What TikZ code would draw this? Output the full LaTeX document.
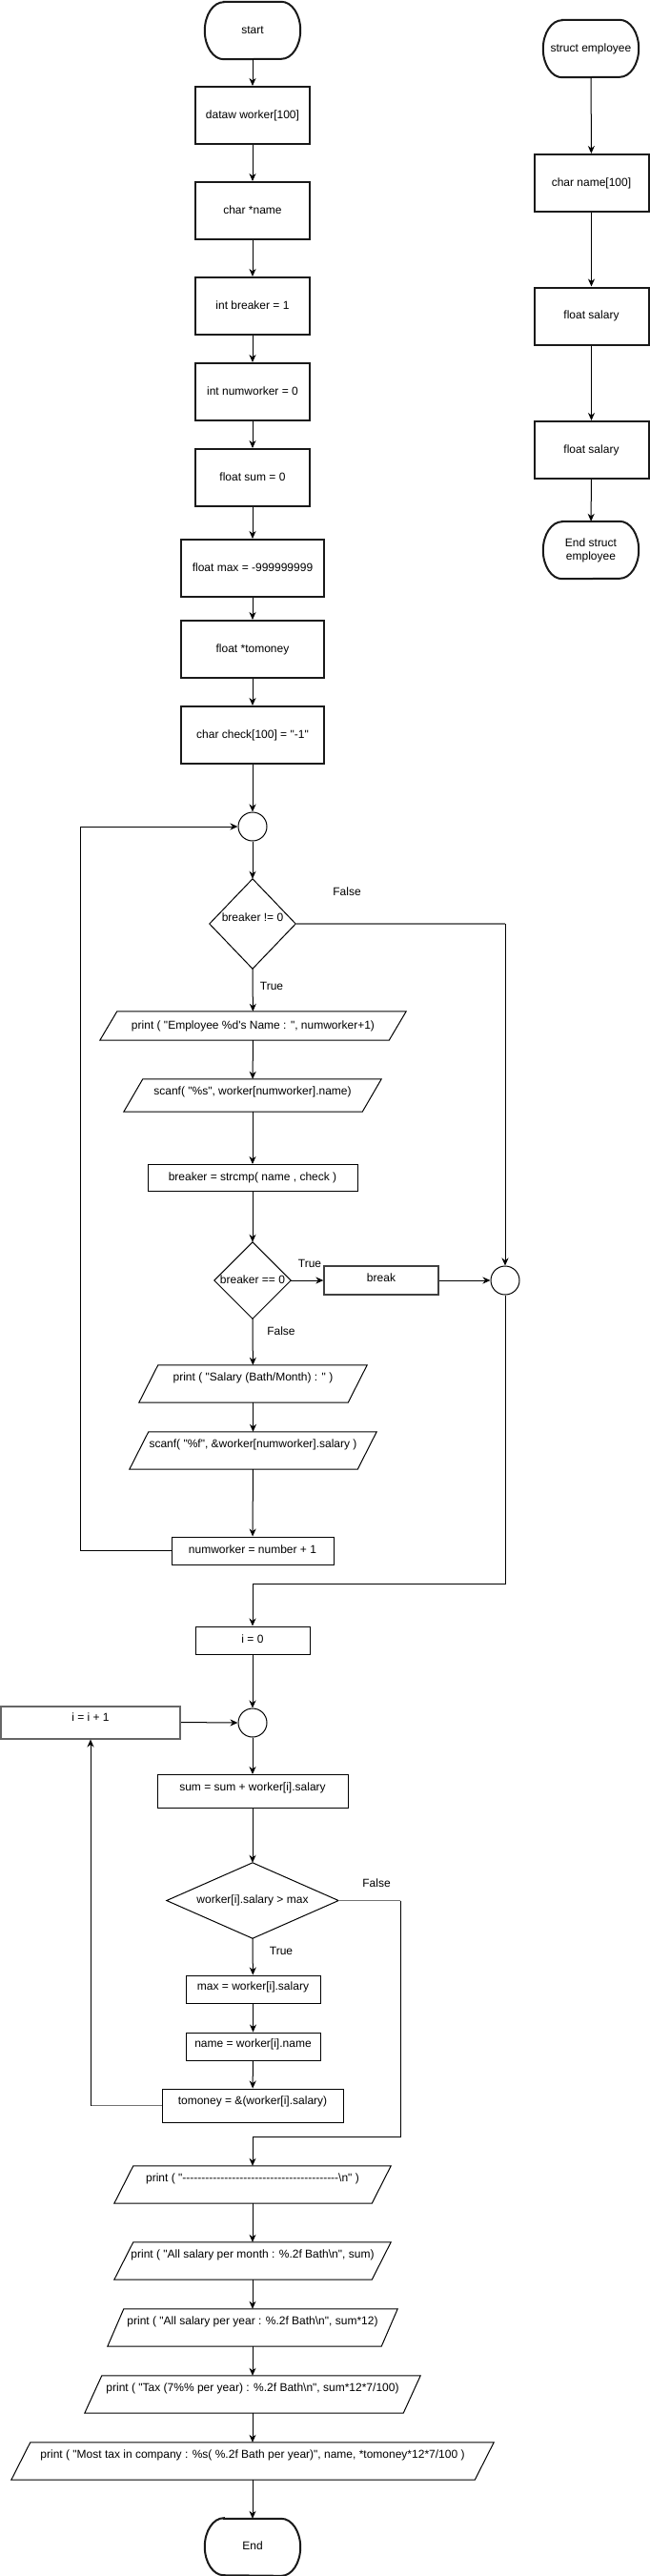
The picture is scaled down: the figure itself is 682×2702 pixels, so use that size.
\documentclass[tikz,border=0pt]{standalone}
\usepackage{fontspec}
\setmainfont{Liberation Sans}[Ligatures=TeXOff]
\usetikzlibrary{arrows.meta,calc}
\newcommand\drawpara[2]{\draw[pline] ([xshift=#2]#1.north west) -- (#1.north east) -- ([xshift=-#2]#1.south east) -- (#1.south west) -- cycle;}
\newcommand\drawterm[1]{\draw[tline] ([xshift=20pt]#1.north west) -- ([xshift=-20pt]#1.north east) arc[start angle=90,end angle=-90,x radius=20pt,y radius=30pt] -- ([xshift=20pt]#1.south west) arc[start angle=270,end angle=90,x radius=20pt,y radius=30pt] -- cycle;}
\newcommand\drawdiam[1]{\draw[pline] (#1.north) -- (#1.east) -- (#1.south) -- (#1.west) -- cycle;}
\tikzset{
  txt/.style={font=\fontsize{12}{14}\selectfont, inner sep=0pt, align=center},
  fx/.style={text height=9pt, text depth=3pt},
  rb/.style={txt, fx, draw=black!90, line width=2pt},
  nb/.style={txt, fx, draw, line width=1pt},
  hb/.style={txt, fx},
  cir/.style={circle, draw, line width=1pt, minimum size=30pt, inner sep=0pt},
  lbl/.style={txt, fx},
  arr/.style={-{Stealth[length=8pt,width=7pt,inset=2.5pt]}, line width=1pt},
  gl/.style={line width=1.6pt, draw=black!55},
  pline/.style={line width=1pt},
  tline/.style={line width=2pt, draw=black!90},
  up/.style={text depth=#1},
}
\begin{document}
\begin{tikzpicture}[x=1pt,y=-1pt]
\useasboundingbox (0,0) rectangle (682,2702);
% ---------- main column
\node[hb, minimum width=100pt, minimum height=60pt] (start) at (265,32) {start};
\drawterm{start}
\node[rb, minimum width=120pt, minimum height=60pt] (dataw) at (265,121) {dataw worker[100]};
\node[rb, minimum width=120pt, minimum height=60pt] (cname) at (265,221) {char *name};
\node[rb, minimum width=120pt, minimum height=60pt] (brk1) at (265,321) {int breaker = 1};
\node[rb, minimum width=120pt, minimum height=60pt] (numw0) at (265,411) {int numworker = 0};
\node[rb, minimum width=120pt, minimum height=60pt] (sum0) at (265,501) {float sum = 0};
\node[rb, minimum width=150pt, minimum height=60pt] (maxv) at (265,596) {float max = -999999999};
\node[rb, minimum width=150pt, minimum height=60pt] (tomon) at (265,681) {float *tomoney};
\node[rb, minimum width=150pt, minimum height=60pt] (check) at (265,771) {char check[100] = "-1"};
\node[cir] (c1) at (265,867) {};
\node[hb, up=15pt, minimum width=90pt, minimum height=94pt] (d1) at (265,969) {breaker != 0};
\drawdiam{d1}
\node[hb, minimum width=321pt, minimum height=30pt] (p1) at (265.5,1076) {print ( "Employee \%d's Name : ", numworker+1)};
\drawpara{p1}{18pt}
\node[hb, up=11pt, minimum width=270pt, minimum height=34pt] (s1) at (265,1149) {scanf( "\%s", worker[numworker].name)};
\drawpara{s1}{20pt}
\node[nb, minimum width=220pt, minimum height=28pt] (strcmp) at (265,1235.5) {breaker = strcmp( name , check )};
\node[hb, minimum width=80pt, minimum height=80pt] (d2) at (265,1343) {breaker == 0};
\drawdiam{d2}
\node[txt, fx, draw=black!75, line width=1.3pt, up=7pt, minimum width=120pt, minimum height=30pt] (brk) at (400,1343) {break};
\node[cir] (c2) at (530,1343) {};
\node[hb, up=15pt, minimum width=239pt, minimum height=39pt] (p2) at (265.5,1451.5) {print ( "Salary (Bath/Month) : " )};
\drawpara{p2}{20pt}
\node[hb, up=15pt, minimum width=259pt, minimum height=39pt] (s2) at (265.5,1521.5) {scanf( "\%f", \&worker[numworker].salary )};
\drawpara{s2}{20pt}
\node[nb, minimum width=170pt, minimum height=29pt] (numw1) at (265,1626.5) {numworker = number + 1};
\node[nb, minimum width=120pt, minimum height=29pt] (i0) at (265,1720.5) {i = 0};
\node[cir] (c3) at (265,1807) {};
\node[txt, fx, draw=black!60, line width=2pt, up=11pt, minimum width=188pt, minimum height=34pt] (inc) at (95,1806.5) {i = i + 1};
\node[nb, up=11pt, minimum width=200pt, minimum height=35pt] (sumb) at (265,1879) {sum = sum + worker[i].salary};
\node[hb, minimum width=180pt, minimum height=79pt] (d3) at (265,1993.5) {worker[i].salary > max};
\drawdiam{d3}
\node[nb, up=7pt, minimum width=141pt, minimum height=29pt] (maxb) at (265.5,2086.5) {max = worker[i].salary};
\node[nb, up=7pt, minimum width=141pt, minimum height=29pt] (nameb) at (265.5,2146.5) {name = worker[i].name};
\node[nb, up=11pt, minimum width=190pt, minimum height=35pt] (tomb) at (265,2208.5) {tomoney = \&(worker[i].salary)};
\node[hb, up=15pt, minimum width=290pt, minimum height=39pt] (pr1) at (265,2291.5) {print ( "-----------------------------------------\textbackslash n" )};
\drawpara{pr1}{20pt}
\node[hb, up=15pt, minimum width=290pt, minimum height=39pt] (pr2) at (265,2371.5) {print ( "All salary per month : \%.2f Bath\textbackslash n", sum)};
\drawpara{pr2}{20pt}
\node[hb, up=15pt, minimum width=304pt, minimum height=39pt] (pr3) at (265,2441.5) {print ( "All salary per year : \%.2f Bath\textbackslash n", sum*12)};
\drawpara{pr3}{17pt}
\node[hb, up=15pt, minimum width=352pt, minimum height=39pt] (pr4) at (265,2511.5) {print ( "Tax (7\%\% per year) : \%.2f Bath\textbackslash n", sum*12*7/100)};
\drawpara{pr4}{18pt}
\node[hb, up=15pt, minimum width=506pt, minimum height=39pt] (pr5) at (265,2581.5) {print ( "Most tax in company : \%s( \%.2f Bath per year)", name, *tomoney*12*7/100 )};
\drawpara{pr5}{20pt}
\node[hb, minimum width=100pt, minimum height=59pt] (endn) at (265,2671.5) {End};
\drawterm{endn}
% ---------- struct column
\node[hb, minimum width=100pt, minimum height=60pt] (struct) at (620,51) {struct employee};
\drawterm{struct}
\node[rb, minimum width=120pt, minimum height=60pt] (cn100) at (620.5,192) {char name[100]};
\node[rb, minimum width=120pt, minimum height=60pt] (fs1) at (620.5,331.5) {float salary};
\node[rb, minimum width=120pt, minimum height=60pt] (fs2) at (620.5,472) {float salary};
\node[txt, minimum width=100pt, minimum height=60pt] (endst) at (620,577) {End struct\\employee};
\drawterm{endst}
% ---------- labels
\node[lbl] (lf1) at (364,936) {False};
\node[lbl] (lt1) at (285,1035) {True};
\node[lbl] (lt2) at (325,1326) {True};
\node[lbl] (lf2) at (295,1397) {False};
\node[lbl] (lf3) at (395,1976) {False};
\node[lbl] (lt3) at (295,2047) {True};
% ---------- junction points
\coordinate (j1) at (265,1661);
\coordinate (j2) at (420,1993.5);
\coordinate (j3) at (265,2241);
\coordinate (j4) at (530,969);
\coordinate (j5) at (95,2208.5);
% ---------- connectors
\draw[arr] (start) -- (dataw);
\draw[arr] (dataw) -- (cname);
\draw[arr] (cname) -- (brk1);
\draw[arr] (brk1) -- (numw0);
\draw[arr] (numw0) -- (sum0);
\draw[arr] (sum0) -- (maxv);
\draw[arr] (maxv) -- (tomon);
\draw[arr] (tomon) -- (check);
\draw[arr] (check) -- (c1);
\draw[arr] (c1) -- (d1.north);
\draw[arr] (d1.south) -- (p1);
\draw[arr] (p1) -- (s1);
\draw[arr] (s1) -- (strcmp);
\draw[arr] (strcmp) -- (d2.north);
\draw[arr] (d2.east) -- (brk);
\draw[arr] (brk) -- (c2);
\draw[arr] (d2.south) -- (p2);
\draw[arr] (p2) -- (s2);
\draw[arr] (s2) -- (numw1);
\draw[arr] (numw1.west) -- ++(-95,0) |- (c1.west);
\draw[gl] (d1.east) -- (j4);
\draw[arr] (j4) -- (c2.north);
\draw[arr] (c2.south) |- (j1) -- (i0.north);
\draw[arr] (i0) -- (c3);
\draw[arr] (inc.east) -- (c3.west);
\draw[arr] (c3) -- (sumb);
\draw[arr] (sumb) -- (d3.north);
\draw[arr] (d3.south) -- (maxb);
\draw[arr] (maxb) -- (nameb);
\draw[arr] (nameb) -- (tomb);
\draw[gl] (tomb.west) -- (j5);
\draw[arr] (j5) -- (inc.south);
\draw[gl] (d3.east) -- (j2);
\draw[arr] (j2) |- (j3) -- (pr1.north);
\draw[arr] (pr1) -- (pr2);
\draw[arr] (pr2) -- (pr3);
\draw[arr] (pr3) -- (pr4);
\draw[arr] (pr4) -- (pr5);
\draw[arr] (pr5) -- (endn);
\draw[arr] (struct) -- (cn100);
\draw[arr] (cn100) -- (fs1);
\draw[arr] (fs1) -- (fs2);
\draw[arr] (fs2) -- (endst);
\end{tikzpicture}
\end{document}
